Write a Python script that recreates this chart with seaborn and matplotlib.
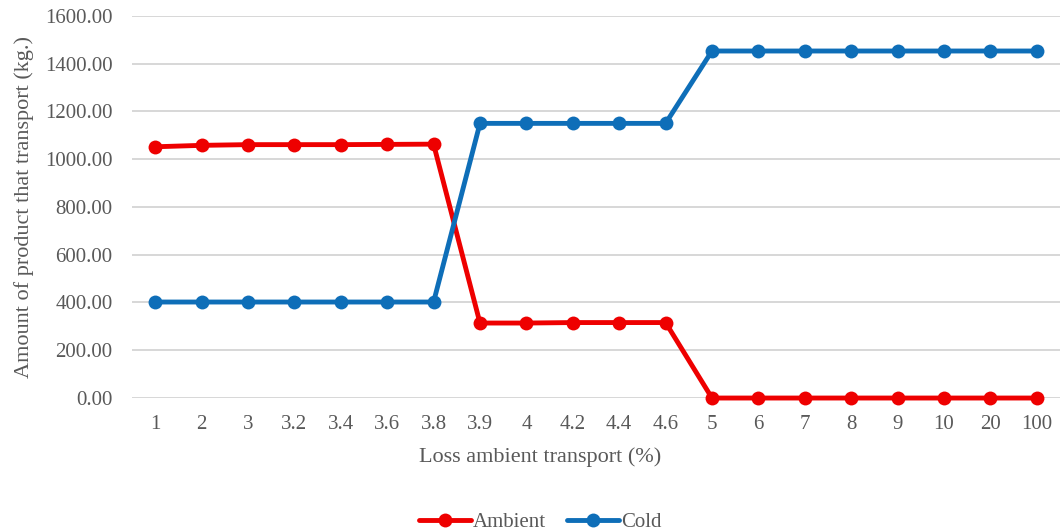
import matplotlib
matplotlib.use("Agg")
import matplotlib.pyplot as plt
import seaborn as sns
import pandas as pd

categories = ["1", "2", "3", "3.2", "3.4", "3.6", "3.8", "3.9", "4", "4.2",
              "4.4", "4.6", "5", "6", "7", "8", "9", "10", "20", "100"]
ambient = [1052, 1058, 1061, 1061, 1061, 1062, 1063, 314, 314, 316,
           316, 316, 0, 0, 0, 0, 0, 0, 0, 0]
cold = [402, 402, 402, 402, 402, 402, 402, 1150, 1150, 1150,
        1150, 1150, 1453, 1453, 1453, 1453, 1453, 1453, 1453, 1453]
y_ticks = [0, 200, 400, 600, 800, 1000, 1200, 1400, 1600]

df = pd.DataFrame({
    "loss": categories * 2,
    "amount": ambient + cold,
    "type": ["Ambient"] * len(categories) + ["Cold"] * len(categories),
})

sns.set_theme(style="white")
plt.rcParams["font.family"] = ["Liberation Serif", "DejaVu Serif"]

fig = plt.figure(figsize=(10.6, 5.3), dpi=100)
ax = fig.add_axes([0.1245, 0.249, 0.8755, 0.721])

palette = {"Ambient": "#EE0000", "Cold": "#0E6EB8"}
sns.lineplot(data=df, x="loss", y="amount", hue="type", palette=palette,
             marker="o", markersize=10, markeredgewidth=0, linewidth=3.5,
             sort=False, ax=ax, clip_on=False, zorder=3)

ax.set_xlim(-0.5, len(categories) - 0.5)
ax.set_ylim(0, 1600)
ax.set_yticks(y_ticks)
ax.set_yticklabels([f"{v:.2f}" for v in y_ticks])
ax.grid(axis="y", color="#D4D4D4", linewidth=1.3, zorder=0)
ax.grid(axis="x", visible=False)
for s in ax.spines.values():
    s.set_visible(False)
ax.tick_params(axis="x", length=0, labelsize=15, colors="#595959", pad=12)
ax.tick_params(axis="y", length=0, labelsize=15, colors="#595959", pad=14)
ax.set_xlabel("Loss ambient transport (%)", fontsize=16, color="#595959")
ax.xaxis.set_label_coords(0.44, -0.13)
ax.set_ylabel("Amount of product that transport (kg.)", fontsize=16, color="#595959", labelpad=8)

leg = ax.legend(loc="upper center", bbox_to_anchor=(0.44, -0.25), ncol=2,
                frameon=False, fontsize=15, handlelength=2.5, columnspacing=1.0,
                handletextpad=0.1)
for t in leg.get_texts():
    t.set_color("#595959")

fig.savefig("out.png", dpi=100)
